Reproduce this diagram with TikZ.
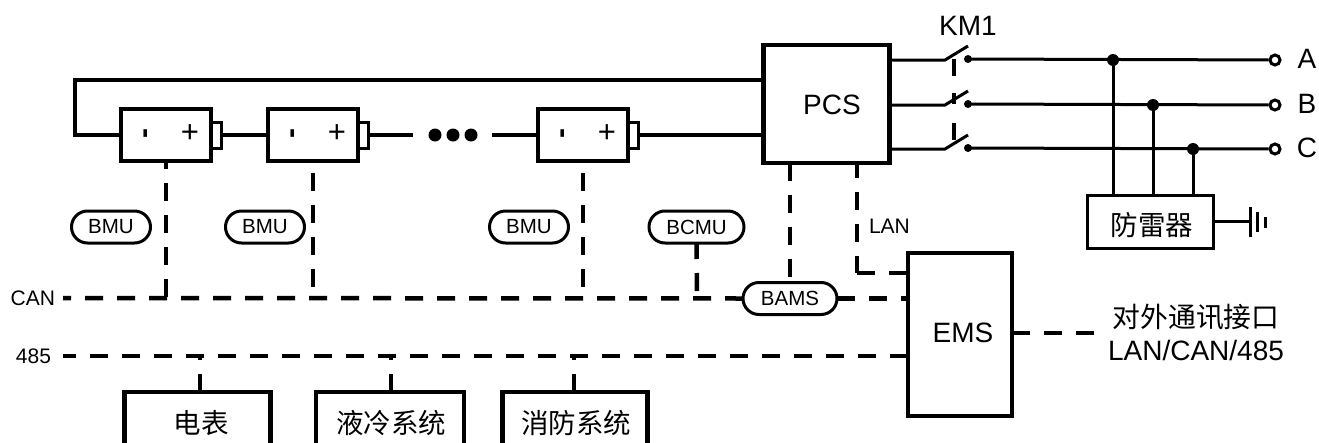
\documentclass[tikz,border=0pt]{standalone}
\usepackage{fontspec}
\setmainfont{Liberation Sans}
\newfontfamily\cjk{Noto Sans CJK SC}
\usetikzlibrary{shapes.misc}
\tikzset{
  x=1pt,y=-1pt,
  wire/.style={line width=3pt},
  dline/.style={line width=4.5pt,dash pattern=on 18pt off 14pt},
  box/.style={draw,line width=4.5pt,inner sep=0pt,outer sep=0pt},
  thinbox/.style={draw,line width=3pt,inner sep=0pt,outer sep=0pt},
  pill/.style={draw,fill=white,line width=3pt,rounded rectangle,inner sep=0pt,outer sep=0pt,minimum height=32pt,font=\fontsize{20.5}{20.5}\selectfont},
  bat/.style={box,minimum width=90pt,minimum height=52pt},
  batcap/.style={draw,line width=3pt,inner sep=0pt,outer sep=0pt,minimum width=10pt,minimum height=26pt},
  lab/.style={inner sep=0pt,outer sep=0pt,font=\fontsize{28}{28}\selectfont},
  small/.style={inner sep=0pt,outer sep=0pt,font=\fontsize{21}{21}\selectfont},
  cjklab/.style={inner sep=0pt,outer sep=0pt,font=\cjk\fontsize{27.5}{27.5}\selectfont},
  dot/.style={circle,fill=black,inner sep=0pt,minimum size=12pt},
  term/.style={circle,draw,fill=white,line width=3pt,inner sep=0pt,minimum size=10pt},
}
\begin{document}
\begin{tikzpicture}
\useasboundingbox (0,0) rectangle (1319,442);
\clip (0,0) rectangle (1319,442);
% main boxes
\node[box,minimum width=126pt,minimum height=118pt] (pcs) at (826.5,104) {};
\node[lab] at (832,105) {PCS};
\node[box,minimum width=104pt,minimum height=163pt] (ems) at (960,334.5) {};
\node[lab] at (963,333) {EMS};
% batteries
\foreach \n/\x in {a/166,b/313,c/583}{
  \node[bat] (bat\n) at (\x,135) {};
  \node[batcap,anchor=west] (cap\n) at (\x+45,135) {};
  \node[inner sep=0pt,rotate=90,font=\bfseries\fontsize{30}{30}\selectfont] at (\x-17,134) {-};
  \node[inner sep=0pt,font=\fontsize{31}{31}\selectfont] at (\x+24,134) {+};
}
% power wires
\draw[line width=4.5pt] (pcs.west |- 0,80) -- (75,80) -- (75,135) -- (bata.west);
\draw[line width=4pt] (capa.east) -- (batb.west);
\draw[line width=4pt] (capb.east) -- (413,135);
\draw[line width=4pt] (492,135) -- (batc.west);
\draw[line width=4pt] (capc.east) -- (pcs.west |- capc.east);
\foreach \x in {435,453,471}{\node[dot,minimum size=13pt] at (\x,135) {};}
% pills
\node[pill,minimum width=79pt] (bmua) at (111,227) {BMU};
\node[pill,minimum width=79pt] (bmub) at (265,227) {BMU};
\node[pill,minimum width=79pt] (bmuc) at (529,227) {BMU};
\node[pill,minimum width=95pt] (bcmu) at (696.5,227) {BCMU};
\node[pill,minimum width=94pt] (bams) at (790,298.5) {BAMS};
% buses
\node[small,anchor=east] (can) at (55,298) {CAN};
\node[small,anchor=east] (r485) at (51,356) {485};
\coordinate (canl) at (63,298);
\coordinate (rl) at (63,356);
\draw[dline] (bams.west) -- (canl);
\draw[dline] (bams.east) -- (ems.west |- bams.east);
\draw[dline] (ems.west |- rl) -- (rl);
% vertical dashed
\draw[dline,dash phase=10pt] (bata.south) -- (166,298);
\draw[dline,dash phase=20pt] (batb.south) -- (313,298);
\draw[dline,dash phase=20pt] (batc.south) -- (583,298);
\draw[dline,dash phase=2pt] (bcmu.south) -- (697,298);
\draw[dline] (790,163) -- (bams.north);
\coordinate (lanc) at (857,273);
\draw[dline,dash phase=4pt] (857,164) -- (lanc);
\draw[dline] (lanc) -- (ems.west |- lanc);
\node[small,anchor=west] (lan) at (869,226) {LAN};
% bottom boxes
\node[box,minimum width=146pt,minimum height=62pt] (meter) at (197.5,423) {};
\node[box,minimum width=148pt,minimum height=62pt] (cool) at (390,423) {};
\node[box,minimum width=145pt,minimum height=62pt] (fire) at (575,423) {};
\node[cjklab] at (201,423) {电表};
\node[cjklab] at (391,423) {液冷系统};
\node[cjklab] at (576,423) {消防系统};
\draw[dline,line width=4pt] (meter.north -| 200,0) -- (200,356);
\draw[dline,line width=4pt] (cool.north -| 391,0) -- (391,356);
\draw[dline,line width=4pt] (fire.north -| 574,0) -- (574,356);
% EMS external
\node[inner sep=0pt,align=center,font=\fontsize{28}{33}\selectfont] (ext) at (1196,332) {{\cjk\fontsize{27.8}{33}\selectfont 对外通讯接口}\\LAN/CAN/485};
\coordinate (extl) at (1094,333);
\draw[dline] (ems.east |- extl) -- (extl);
% three-phase
\node[lab] at (968,26) {KM1};
\foreach \y/\n/\t in {60/a/A,105/b/B,149/c/C}{
  \coordinate (sw\n) at (945,\y);
  \coordinate (st\n) at (968,\y-1);
  \node[term] (t\n) at (1275,\y) {};
  \node[lab] at (1307,\y-1) {\t};
  \draw[wire] (pcs.east |- sw\n) -- (sw\n) -- (968,\y-14);
  \node[circle,fill=black,inner sep=0pt,minimum size=8pt] at (st\n) {};
  \draw[wire] (st\n) -- (t\n);
}
\draw[line width=4pt] (954,59) -- (954,76);
\draw[line width=4pt] (954,93) -- (954,104);
\draw[line width=4pt] (954,123) -- (954,140);
\node[thinbox,minimum width=126pt,minimum height=53pt] (spd) at (1150,221.5) {};
\node[cjklab] at (1152,225) {防雷器};
\node[dot] (ja) at (1113,60) {};
\node[dot] (jb) at (1153,105) {};
\node[dot] (jc) at (1193,149) {};
\draw[wire] (ja.center) -- (ja.center |- spd.north);
\draw[wire] (jb.center) -- (jb.center |- spd.north);
\draw[wire] (jc.center) -- (jc.center |- spd.north);
\coordinate (gnd) at (1250,221.5);
\draw[wire] (spd.east) -- (gnd);
\draw[wire] (1250,207) -- (1250,237);
\draw[wire] (1257.5,212) -- (1257.5,232);
\draw[wire] (1265,217) -- (1265,228);
\end{tikzpicture}
\end{document}
